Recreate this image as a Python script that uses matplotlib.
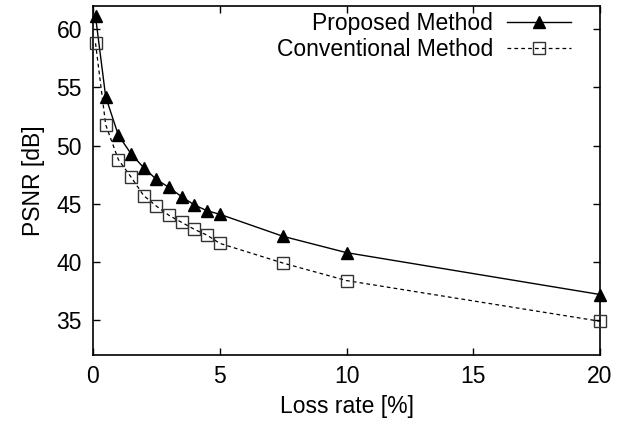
import matplotlib
matplotlib.use("Agg")
import matplotlib.pyplot as plt

plt.rcParams['font.family'] = ['Liberation Sans', 'DejaVu Sans']

# loss rate [%]
loss_rate = [0.1, 0.5, 1.0, 1.5, 2.0, 2.5, 3.0, 3.5, 4.0, 4.5, 5.0, 7.5, 10.0, 20.0]
# PSNR [dB]
psnr_proposed = [61.1, 54.2, 50.9, 49.3, 48.1, 47.1, 46.4, 45.6, 44.9, 44.4, 44.1, 42.2, 40.8, 37.2]
psnr_conventional = [58.8, 51.8, 48.8, 47.3, 45.7, 44.8, 44.0, 43.4, 42.8, 42.3, 41.6, 39.9, 38.4, 34.9]

xticks = [0, 5, 10, 15, 20]
yticks = [35, 40, 45, 50, 55, 60]

fs = 16.5

fig = plt.figure(figsize=(6.25, 4.3), dpi=100)
ax = fig.add_axes([0.1488, 0.1744, 0.8112, 0.8116])

ax.plot(loss_rate, psnr_proposed, color='black', lw=1.0, marker='^', ms=9,
        mfc='black', mec='black', label='Proposed Method', clip_on=False, zorder=3)
ax.plot(loss_rate, psnr_conventional, color='black', lw=0.9, ls=(0, (3, 2.5)), marker='s', ms=9,
        mfc='none', mec='#333333', mew=1.0, label='Conventional Method', clip_on=False, zorder=3)

ax.set_xlim(0, 20)
ax.set_ylim(32, 62)
ax.set_xticks(xticks)
ax.set_yticks(yticks)
ax.tick_params(direction='in', length=5, width=1, top=True, right=True, labelsize=fs)
ax.tick_params(axis='x', pad=7)
ax.tick_params(axis='y', pad=8)
for s in ax.spines.values():
    s.set_linewidth(1.2)

ax.set_xlabel('Loss rate [%]', fontsize=fs, labelpad=5)
ax.set_ylabel('PSNR [dB]', fontsize=fs, labelpad=8)

ax.legend(loc='upper right', frameon=False, markerfirst=False, fontsize=fs,
          handlelength=2.8, handletextpad=0.6, labelspacing=0.1,
          borderaxespad=0.1, bbox_to_anchor=(0.965, 1.015))

fig.savefig('out.png', dpi=100)
